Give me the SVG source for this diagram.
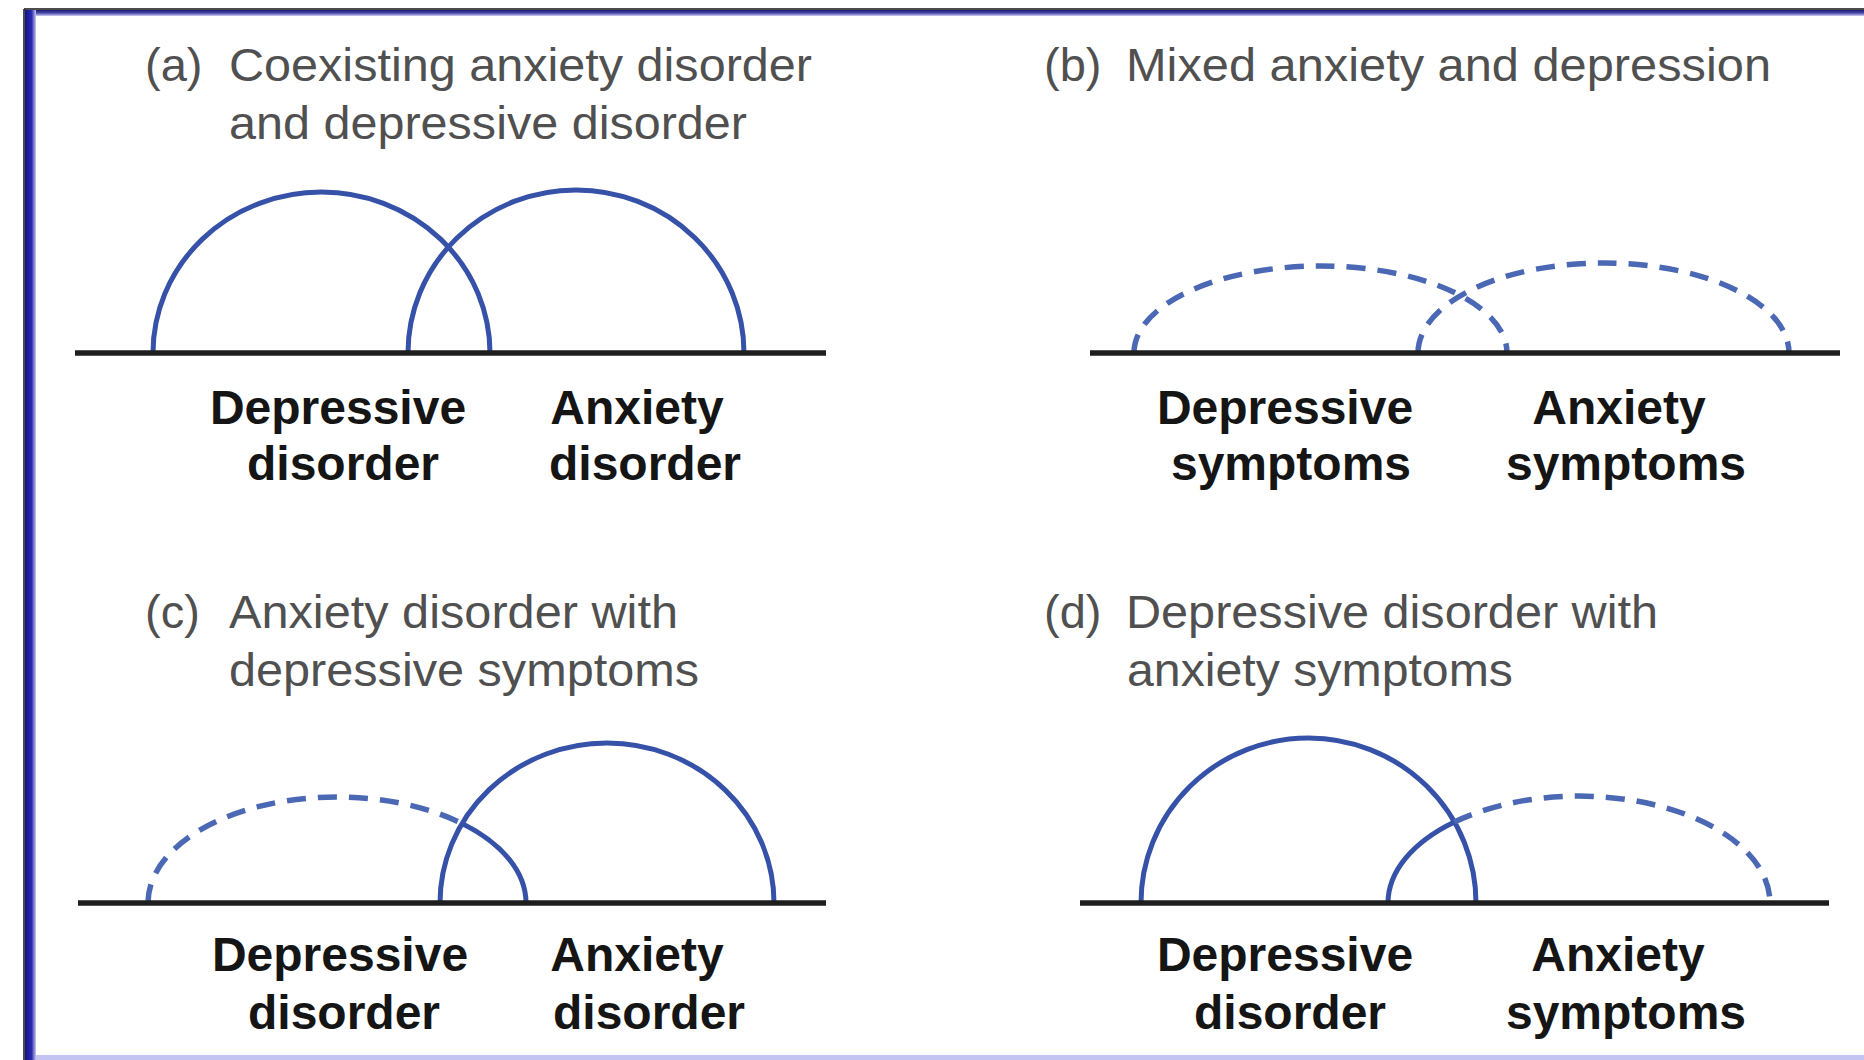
<svg xmlns="http://www.w3.org/2000/svg" width="1864" height="1060" viewBox="0 0 1864 1060">
  <defs>
    <linearGradient id="gLeft" x1="0" y1="0" x2="1" y2="0">
      <stop offset="0" stop-color="#12128a"/>
      <stop offset="0.6" stop-color="#2a2ab0"/>
      <stop offset="1" stop-color="#c8c8f0"/>
    </linearGradient>
    <linearGradient id="gTop" x1="0" y1="0" x2="0" y2="1">
      <stop offset="0" stop-color="#1a1a70"/>
      <stop offset="0.5" stop-color="#4848a8"/>
      <stop offset="1" stop-color="#d0d0f4"/>
    </linearGradient>
  </defs>
  <style>
    .title { font-family: "Liberation Sans", Arial, sans-serif; font-size: 47px; fill: #505050; }
    .lbl { font-family: "Liberation Sans", Arial, sans-serif; font-size: 48px; font-weight: bold; fill: #151515; text-anchor: middle; }
    .base { stroke: #1e1e1e; stroke-width: 5.5; fill: none; }
    .solid { stroke: #3652a8; stroke-width: 5; fill: none; }
    .dash { stroke: #4a68b4; stroke-width: 5.5; fill: none; stroke-dasharray: 19 12; }
  </style>

  <g id="frame">
    <rect x="0" y="0" width="1864" height="1060" fill="#ffffff"/>
    <rect x="24" y="9" width="1840" height="1051" fill="#ffffff"/>
    <rect x="25" y="10" width="1839" height="6" fill="url(#gTop)"/>
    <rect x="25" y="10" width="11" height="1050" fill="url(#gLeft)"/>
    <rect x="36" y="1055" width="1828" height="5" fill="#c4c4f2"/>
    <line x1="24" y1="9" x2="1864" y2="9" stroke="#111" stroke-width="1.5"/>
    <line x1="24" y1="9" x2="24" y2="1060" stroke="#111" stroke-width="1.5"/>
  </g>

  <g id="panel-a">
    <g id="a-title">
      <text class="title" x="145" y="81">(a)</text>
      <text class="title" x="229" y="81" textLength="583" lengthAdjust="spacingAndGlyphs">Coexisting anxiety disorder</text>
      <text class="title" x="229" y="139" textLength="518" lengthAdjust="spacingAndGlyphs">and depressive disorder</text>
    </g>
    <g id="a-depressive">
      <path class="solid" d="M 153 353 A 168.5 161 0 0 1 490 353"/>
      <text class="lbl" x="338" y="424">Depressive</text>
      <text class="lbl" x="343" y="480">disorder</text>
    </g>
    <g id="a-anxiety">
      <path class="solid" d="M 408 353 A 168 163 0 0 1 744 353"/>
      <text class="lbl" x="637" y="424">Anxiety</text>
      <text class="lbl" x="645" y="480">disorder</text>
    </g>
    <line class="base" x1="75" y1="353" x2="826" y2="353"/>
  </g>

  <g id="panel-b">
    <g id="b-title">
      <text class="title" x="1044" y="81">(b)</text>
      <text class="title" x="1126" y="81" textLength="645" lengthAdjust="spacingAndGlyphs">Mixed anxiety and depression</text>
    </g>
    <g id="b-depressive">
      <path class="dash" d="M 1134 353 A 186.5 87 0 0 1 1507 353"/>
      <text class="lbl" x="1285" y="424">Depressive</text>
      <text class="lbl" x="1291" y="480">symptoms</text>
    </g>
    <g id="b-anxiety">
      <path class="dash" d="M 1418 353 A 185.5 90 0 0 1 1789 353"/>
      <text class="lbl" x="1619" y="424">Anxiety</text>
      <text class="lbl" x="1626" y="480">symptoms</text>
    </g>
    <line class="base" x1="1090" y1="353" x2="1840" y2="353"/>
  </g>

  <g id="panel-c">
    <g id="c-title">
      <text class="title" x="145" y="628">(c)</text>
      <text class="title" x="229" y="628" textLength="449" lengthAdjust="spacingAndGlyphs">Anxiety disorder with</text>
      <text class="title" x="229" y="686" textLength="470" lengthAdjust="spacingAndGlyphs">depressive symptoms</text>
    </g>
    <g id="c-depressive">
      <path class="dash" d="M 148 903 A 189 106 0 0 1 462 823.5"/>
      <path class="solid" d="M 462 823.5 A 189 106 0 0 1 526 903"/>
      <text class="lbl" x="340" y="971">Depressive</text>
      <text class="lbl" x="344" y="1029">disorder</text>
    </g>
    <g id="c-anxiety">
      <path class="solid" d="M 440 903 A 167 160 0 0 1 774 903"/>
      <text class="lbl" x="637" y="971">Anxiety</text>
      <text class="lbl" x="649" y="1029">disorder</text>
    </g>
    <line class="base" x1="78" y1="903" x2="826" y2="903"/>
  </g>

  <g id="panel-d">
    <g id="d-title">
      <text class="title" x="1044" y="628">(d)</text>
      <text class="title" x="1126" y="628" textLength="532" lengthAdjust="spacingAndGlyphs">Depressive disorder with</text>
      <text class="title" x="1127" y="686" textLength="386" lengthAdjust="spacingAndGlyphs">anxiety symptoms</text>
    </g>
    <g id="d-depressive">
      <path class="solid" d="M 1141 903 A 167.5 165 0 0 1 1476 903"/>
      <text class="lbl" x="1285" y="971">Depressive</text>
      <text class="lbl" x="1290" y="1029">disorder</text>
    </g>
    <g id="d-anxiety">
      <path class="solid" d="M 1388 903 A 191 107 0 0 1 1454.4 822"/>
      <path class="dash" d="M 1454.4 822 A 191 107 0 0 1 1770 903"/>
      <text class="lbl" x="1618" y="971">Anxiety</text>
      <text class="lbl" x="1626" y="1029">symptoms</text>
    </g>
    <line class="base" x1="1080" y1="903" x2="1829" y2="903"/>
  </g>

  <g id="connectors"></g>
</svg>
